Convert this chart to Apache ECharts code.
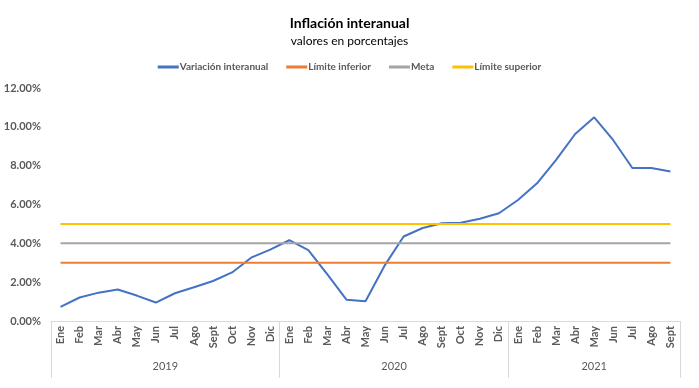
<!DOCTYPE html>
<html><head><meta charset="utf-8">
<script src="https://cdn.jsdelivr.net/npm/echarts@6/dist/echarts.min.js"></script>
<style>html,body{margin:0;padding:0;background:#fff}#c{width:699px;height:388px}</style>
</head><body><div id="c"></div>
<script>
const months = ['Ene','Feb','Mar','Abr','May','Jun','Jul','Ago','Sept','Oct','Nov','Dic',
  'Ene','Feb','Mar','Abr','May','Jun','Jul','Ago','Sept','Oct','Nov','Dic',
  'Ene','Feb','Mar','Abr','May','Jun','Jul','Ago','Sept'];
const years = ['2019','2020','2021'];
const yearBounds = [0, 12, 24, 33];
const yearCenters = [6, 18, 28.5];
const variacion = [0.73,1.21,1.46,1.62,1.31,0.95,1.43,1.74,2.06,2.50,3.26,3.68,
  4.16,3.65,2.40,1.10,1.02,2.85,4.35,4.79,5.03,5.06,5.27,5.55,
  6.23,7.09,8.30,9.63,10.49,9.31,7.88,7.88,7.70];
const limInferior = months.map(() => 3);
const meta = months.map(() => 4);
const limSuperior = months.map(() => 5);
const yTicks = [0, 2, 4, 6, 8, 10, 12];

const FONT = 'Lato';
const GREY = '#595959';
const chart = echarts.init(document.getElementById('c'));
const mk = (name, data, color) => ({
  name, type: 'line', data, xAxisIndex: 0, yAxisIndex: 0,
  symbol: 'none', showSymbol: false, smooth: false,
  lineStyle: { color, width: 2 }, itemStyle: { color }
});
chart.setOption({
  animation: false,
  textStyle: { fontFamily: FONT },
  title: {
    text: 'Inflación interanual', subtext: 'valores en porcentajes',
    left: 'center', top: 11, itemGap: 5,
    textStyle: { fontFamily: FONT, fontSize: 14, fontWeight: 'bold', color: '#000' },
    subtextStyle: { fontFamily: FONT, fontSize: 12, color: '#000' }
  },
  legend: {
    top: 57, left: 'center', itemGap: 18, itemWidth: 21, itemHeight: 3, icon: 'rect',
    textStyle: { fontFamily: FONT, fontSize: 10, fontWeight: 'bold', color: GREY, padding: [0,0,0,-4] },
    data: ['Variación interanual', 'Límite inferior', 'Meta', 'Límite superior']
  },
  grid: { left: 51, right: 19, top: 88, bottom: 67, containLabel: false },
  xAxis: [{
    type: 'category', data: months, boundaryGap: true,
    axisLine: { lineStyle: { color: '#d9d9d9', width: 1 } },
    axisTick: { show: false },
    axisLabel: { rotate: 90, interval: 0, margin: 5, fontSize: 11, fontWeight: 'bold', color: GREY, fontFamily: FONT }
  }, {
    type: 'value', min: 0, max: 33, position: 'bottom',
    axisLine: { show: false }, splitLine: { show: false },
    axisTick: { show: true, customValues: yearBounds, length: 57, lineStyle: { color: '#d9d9d9' } },
    axisLabel: { customValues: yearCenters, margin: 40, fontSize: 11, color: GREY, fontFamily: FONT,
      formatter: v => years[yearCenters.indexOf(v)] }
  }],
  yAxis: {
    type: 'value', min: 0, max: 12, interval: 2,
    axisLine: { show: false }, axisTick: { show: false }, splitLine: { show: false },
    axisLabel: { fontSize: 11, fontWeight: 'bold', color: GREY, fontFamily: FONT, margin: 10,
      formatter: v => v.toFixed(2) + '%' }
  },
  series: [
    mk('Variación interanual', variacion, '#4472C4'),
    mk('Límite inferior', limInferior, '#ED7D31'),
    mk('Meta', meta, '#A5A5A5'),
    mk('Límite superior', limSuperior, '#FFC000')
  ]
});
</script></body></html>
